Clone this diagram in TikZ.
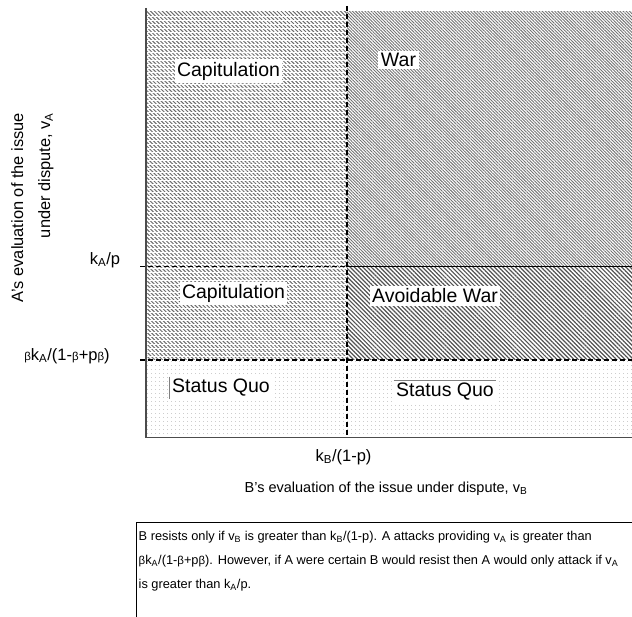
\documentclass[tikz,border=0pt]{standalone}
\usepackage{fontspec}
\setmainfont{Liberation Sans}
\usetikzlibrary{patterns.meta}
\newcommand{\betasym}{{\fontsize{11.5}{11.5}\selectfont β}}
\begin{document}
\begin{tikzpicture}
[x=1pt,y=-1pt,
  regionlabel/.style={fill=white,inner sep=2.5pt,font=\fontsize{19.5}{22}\selectfont},
  ticklabel/.style={inner sep=0pt,font=\fontsize{16.5}{18}\selectfont},
  axislabel/.style={inner sep=0pt,font=\fontsize{14.5}{27}\selectfont},
  captiontext/.style={inner sep=0pt,align=left,font=\fontsize{12.8}{24}\selectfont},
  dashline/.style={-,line width=1.4pt,dash pattern=on 5pt off 3pt},
  axisline/.style={-,line width=1.6pt,gray!60!black},
  capfill/.style={pattern={Lines[angle=-45,distance=2.8pt,line width=1pt]},pattern color=gray!85!black},
  warfill/.style={pattern={Lines[angle=-45,distance=2.2pt,line width=0.9pt]},pattern color=gray!90!black},
  avoidfill/.style={pattern={Lines[angle=-45,distance=3pt,line width=1.2pt]},pattern color=gray!65!black},
  quofill/.style={pattern={Dots[distance=4pt,radius=0.45pt]},pattern color=gray!80}]
\useasboundingbox (0,0) rectangle (632,617);
%% regions
\fill[capfill] (146,12) rectangle (347,360);
\foreach \yy in {16,20,...,356}
  \draw[white,line width=0.6pt] (146,\yy) -- (347,\yy);
\fill[warfill] (347,12) rectangle (632,266.7);
\fill[avoidfill] (347,266.7) rectangle (632,360);
\fill[quofill] (146,360) rectangle (632,437);
%% boundaries
\coordinate (tickA) at (140,266.7);
\coordinate (midA) at (347,266.7);
\coordinate (endA) at (632,266.7);
\coordinate (tickB) at (140,360);
\coordinate (endB) at (632,360);
\coordinate (vtop) at (347,6);
\coordinate (vbot) at (347,437);
\coordinate (origin) at (146,437.5);
\coordinate (ytop) at (146,8);
\coordinate (xend) at (632,437.5);
\draw[dashline] (tickA) -- (midA);
\draw[line width=0.8pt] (midA) -- (endA);
\draw[dashline] (tickB) -- (endB);
\draw[dashline] (vtop) -- (vbot);
\draw[axisline] (ytop) -- (origin) -- (xend);
%% region labels
\foreach \nodename/\x/\y/\text in {
  capA/228.5/71/Capitulation, war/398.5/60/War,
  capB/233.5/293.5/Capitulation, avoid/435/296/Avoidable War,
  quoA/221/388/Status Quo, quoB/445/391.5/Status Quo}
{
  \node (\nodename) at (\x,\y) [regionlabel] {\text};
}
\draw[gray,line width=0.8pt] (quoA.north west) -- (quoA.south west);
\draw[gray,line width=0.8pt] (quoB.north west) -- (quoB.north east);
%% axis labels
\node (kA) at (105,260) [ticklabel] {k\textsubscript{A}/p};
\node (betaA) at (67,356) [ticklabel] {\betasym k\textsubscript{A}/(1-\betasym+p\betasym)};
\node (kB) at (343.5,457) [ticklabel] {k\textsubscript{B}/(1-p)};
\node (xlabel) at (386,489) [axislabel] {B's evaluation of the issue under dispute, v\textsubscript{B}};
\node (ylabel) at (32.5,113) [axislabel,rotate=90,anchor=east,align=right,
  font=\fontsize{16.4}{27}\selectfont]
  {A's evaluation of the issue\\under dispute, v\textsubscript{A}};
%% caption
\draw[line width=0.8pt] (136,522) rectangle (650,640);
\node (caption) at (138.5,561) [captiontext,anchor=west]
  {B resists only if v\textsubscript{B} is greater than k\textsubscript{B}/(1-p). A attacks providing v\textsubscript{A} is greater than\\
   \betasym k\textsubscript{A}/(1-\betasym+p\betasym). However, if A were certain B would resist then A would only attack if v\textsubscript{A}\\
   is greater than k\textsubscript{A}/p.};
\end{tikzpicture}
\end{document}
